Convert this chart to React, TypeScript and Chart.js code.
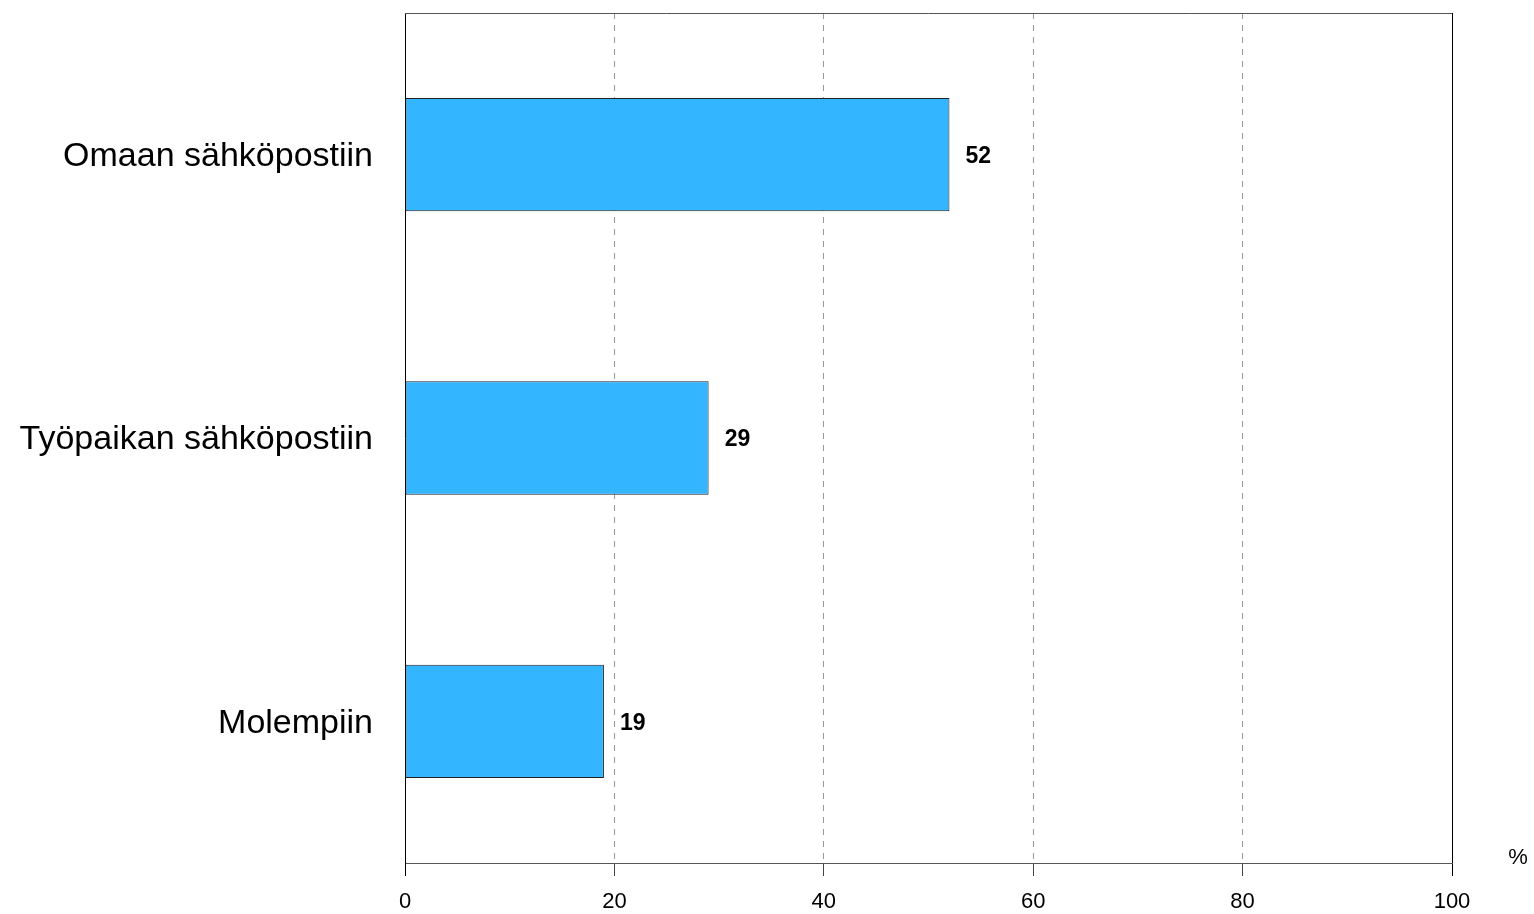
import React, { useEffect, useRef } from "react";
import { Chart, registerables } from "chart.js";

Chart.register(...registerables);

const categories = ["Omaan sähköpostiin", "Työpaikan sähköpostiin", "Molempiin"];
const values = [52, 29, 19];
const xTickValues = [0, 20, 40, 60, 80, 100];
const unitLabel = "%";

const FONT = "'Liberation Sans', Arial, Helvetica, sans-serif";

export default function App() {
  const ref = useRef<HTMLCanvasElement | null>(null);

  useEffect(() => {
    document.body.style.margin = "0";
    const canvas = ref.current;
    if (!canvas) return;

    const framePlugin = {
      id: "frame",
      afterDraw(chart: any) {
        const { ctx, chartArea } = chart;
        ctx.save();
        ctx.lineWidth = 1;
        ctx.strokeStyle = "#555";
        ctx.beginPath();
        ctx.moveTo(chartArea.left, Math.round(chartArea.top) + 0.5);
        ctx.lineTo(chartArea.right, Math.round(chartArea.top) + 0.5);
        ctx.stroke();
        ctx.strokeStyle = "#000";
        ctx.beginPath();
        ctx.moveTo(Math.round(chartArea.right) + 0.5, chartArea.top);
        ctx.lineTo(Math.round(chartArea.right) + 0.5, chartArea.bottom);
        ctx.stroke();
        ctx.fillStyle = "#000";
        ctx.font = `22px ${FONT}`;
        ctx.textAlign = "center";
        ctx.textBaseline = "middle";
        ctx.fillText(unitLabel, chartArea.right + 66, chartArea.bottom - 5);
        ctx.restore();
      },
    };

    const labelPlugin = {
      id: "valueLabels",
      afterDatasetsDraw(chart: any) {
        const { ctx } = chart;
        const meta = chart.getDatasetMeta(0);
        ctx.save();
        ctx.fillStyle = "#000";
        ctx.font = `bold 23px ${FONT}`;
        ctx.textAlign = "left";
        ctx.textBaseline = "middle";
        meta.data.forEach((bar: any, i: number) => {
          ctx.fillText(String(values[i]), bar.x + 16, bar.y + 2);
        });
        ctx.restore();
      },
    };

    const chart = new Chart(canvas, {
      type: "bar",
      data: {
        labels: categories,
        datasets: [
          {
            data: values,
            backgroundColor: "#33B6FF",
            borderColor: "#222",
            borderWidth: 1,
            borderSkipped: false,
            categoryPercentage: 1,
            barPercentage: 0.4,
          },
        ],
      },
      options: {
        indexAxis: "y",
        animation: false,
        responsive: false,
        maintainAspectRatio: false,
        devicePixelRatio: 1,
        layout: { padding: { left: 0, top: 13, right: 82, bottom: 0 } },
        plugins: {
          legend: { display: false },
          tooltip: { enabled: false },
        },
        scales: {
          x: {
            type: "linear",
            min: 0,
            max: 100,
            afterBuildTicks: (scale: any) => {
              scale.ticks = xTickValues.map((v) => ({ value: v }));
            },
            afterFit: (scale: any) => {
              scale.height = 51;
            },
            ticks: {
              color: "#000",
              font: { family: FONT, size: 22 },
              padding: 13,
              maxRotation: 0,
            },
            grid: {
              color: (c: any) =>
                c.tick && (c.tick.value === 0 || c.tick.value === 100) ? "rgba(0,0,0,0)" : "#999",
              tickLength: 13,
              tickBorderDash: [],
              tickColor: (c: any) =>
                c.tick && (c.tick.value === 0 || c.tick.value === 100) ? "#000" : "#444",
              lineWidth: 1,
            },
            border: { display: true, color: "#555", width: 1, dash: [6, 6] },
          },
          y: {
            afterFit: (scale: any) => {
              scale.width = 405;
              scale.paddingTop = 0;
              scale.paddingBottom = 0;
            },
            ticks: {
              color: "#000",
              font: { family: FONT, size: 34 },
              padding: 24,
              labelOffset: 2,
            },
            grid: { display: false },
            border: { display: true, color: "#000", width: 1 },
          },
        },
      },
      plugins: [framePlugin, labelPlugin],
    } as any);

    return () => chart.destroy();
  }, []);

  return (
    <div style={{ position: "absolute", left: 0, top: 0, width: 1534, height: 914 }}>
      <canvas ref={ref} width={1534} height={914} style={{ width: 1534, height: 914 }} />
    </div>
  );
}
